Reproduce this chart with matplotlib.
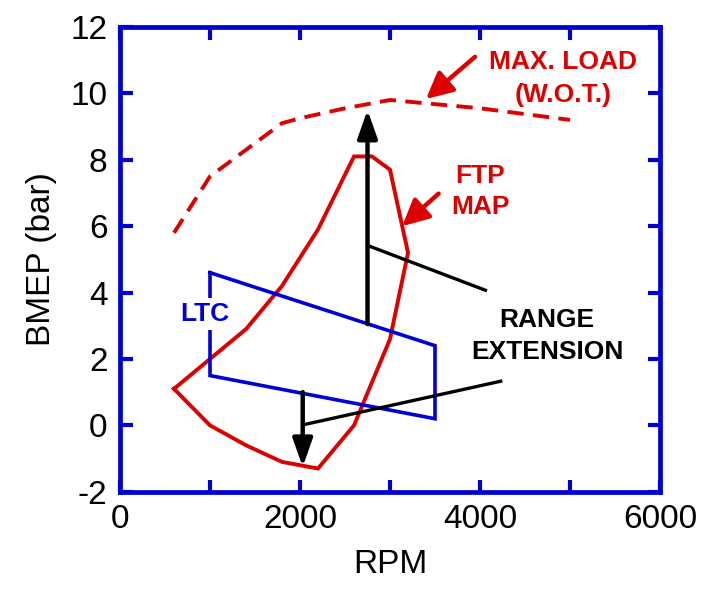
import matplotlib
matplotlib.use("Agg")
from matplotlib import pyplot as plt

plt.rcParams['font.family'] = ['Liberation Sans', 'DejaVu Sans']
plt.rcParams['axes.unicode_minus'] = False

RED = '#dd0000'
BLUE = '#0000d4'

# full-load (wide open throttle) curve
wot_rpm = [600, 1000, 1100, 1800, 2000, 2500, 3000, 4000, 5000]
wot_bmep = [5.8, 7.5, 7.7, 9.1, 9.25, 9.55, 9.8, 9.55, 9.2]

# FTP operating map outline
ftp_rpm = [600, 1000, 1400, 1800, 2200, 2600, 3000, 3200, 3000, 2800, 2600, 2200, 1800, 1400, 1000, 600]
ftp_bmep = [1.1, 0.0, -0.6, -1.1, -1.3, 0.0, 2.6, 5.2, 7.7, 8.1, 8.1, 5.9, 4.2, 2.9, 2.0, 1.1]

# LTC operating region
ltc_rpm = [1000, 1000, 3500, 3500, 1000]
ltc_bmep = [4.6, 1.5, 0.2, 2.4, 4.6]

# range extension arrows (rpm, start bmep, end bmep)
ext_up = (2750, 3.05, 9.5)
ext_down = (2030, 1.0, -1.25)

# leader lines from the label to the arrows
lead_hi_rpm = [2750, 4060]
lead_hi_bmep = [5.42, 4.07]
lead_lo_rpm = [2040, 4230]
lead_lo_bmep = [0.02, 1.33]

x_ticks = [0, 2000, 4000, 6000]
y_ticks = [-2, 0, 2, 4, 6, 8, 10, 12]

fig = plt.figure(figsize=(7.1, 5.99), dpi=100)
ax = fig.add_axes([0.169, 0.179, 0.7606, 0.776])

ax.plot(wot_rpm, wot_bmep, color=RED, lw=2.8, dashes=(4.2, 2.4))
ax.plot(ftp_rpm, ftp_bmep, color=RED, lw=2.8, solid_joinstyle='miter')
ax.plot(ltc_rpm, ltc_bmep, color=BLUE, lw=2.6, solid_joinstyle='miter')

ax.plot(lead_hi_rpm, lead_hi_bmep, color='black', lw=2.4)
ax.plot(lead_lo_rpm, lead_lo_bmep, color='black', lw=2.4)

black_head = '-|>,head_length=0.85,head_width=0.3'
for x, y0, y1 in (ext_up, ext_down):
    ax.annotate('', xy=(x, y1), xytext=(x, y0),
                arrowprops=dict(arrowstyle=black_head, mutation_scale=20,
                                color='black', lw=3.2, shrinkA=0, shrinkB=0))

red_head = '-|>,head_length=0.8,head_width=0.4'
ax.annotate('', xy=(3400, 9.83), xytext=(3945, 11.1),
            arrowprops=dict(arrowstyle=red_head, mutation_scale=20,
                            color=RED, lw=3.2, shrinkA=0, shrinkB=0))
ax.annotate('', xy=(3135, 6.0), xytext=(3540, 6.98),
            arrowprops=dict(arrowstyle=red_head, mutation_scale=20,
                            color=RED, lw=3.2, shrinkA=0, shrinkB=0))

bold = dict(fontsize=19, fontweight='bold', ha='center', va='center')
ax.text(4920, 10.93, 'MAX. LOAD', color=RED, **bold)
ax.text(4920, 9.95, '(W.O.T.)', color=RED, **bold)
ax.text(4000, 7.5, 'FTP', color=RED, **bold)
ax.text(4000, 6.58, 'MAP', color=RED, **bold)
ax.text(4745, 3.17, 'RANGE', color='black', **bold)
ax.text(4745, 2.21, 'EXTENSION', color='black', **bold)
ax.text(940, 3.36, 'LTC', color=BLUE,
        bbox=dict(facecolor='white', edgecolor='none', pad=3), **bold)

ax.set_xlim(0, 6000)
ax.set_ylim(-2, 12)
ax.set_xticks(x_ticks)
ax.set_yticks(y_ticks)
ax.set_xticks(range(0, 6001, 1000), minor=True)
ax.tick_params(which='both', direction='in', top=True, right=True,
               color=BLUE, width=3, labelsize=24, pad=9, length=9)
for s in ax.spines.values():
    s.set_color(BLUE)
    s.set_linewidth(3.4)

ax.set_xlabel('RPM', fontsize=24, labelpad=10)
ax.set_ylabel('BMEP (bar)', fontsize=24, labelpad=10)

fig.savefig('out.png', dpi=100)
